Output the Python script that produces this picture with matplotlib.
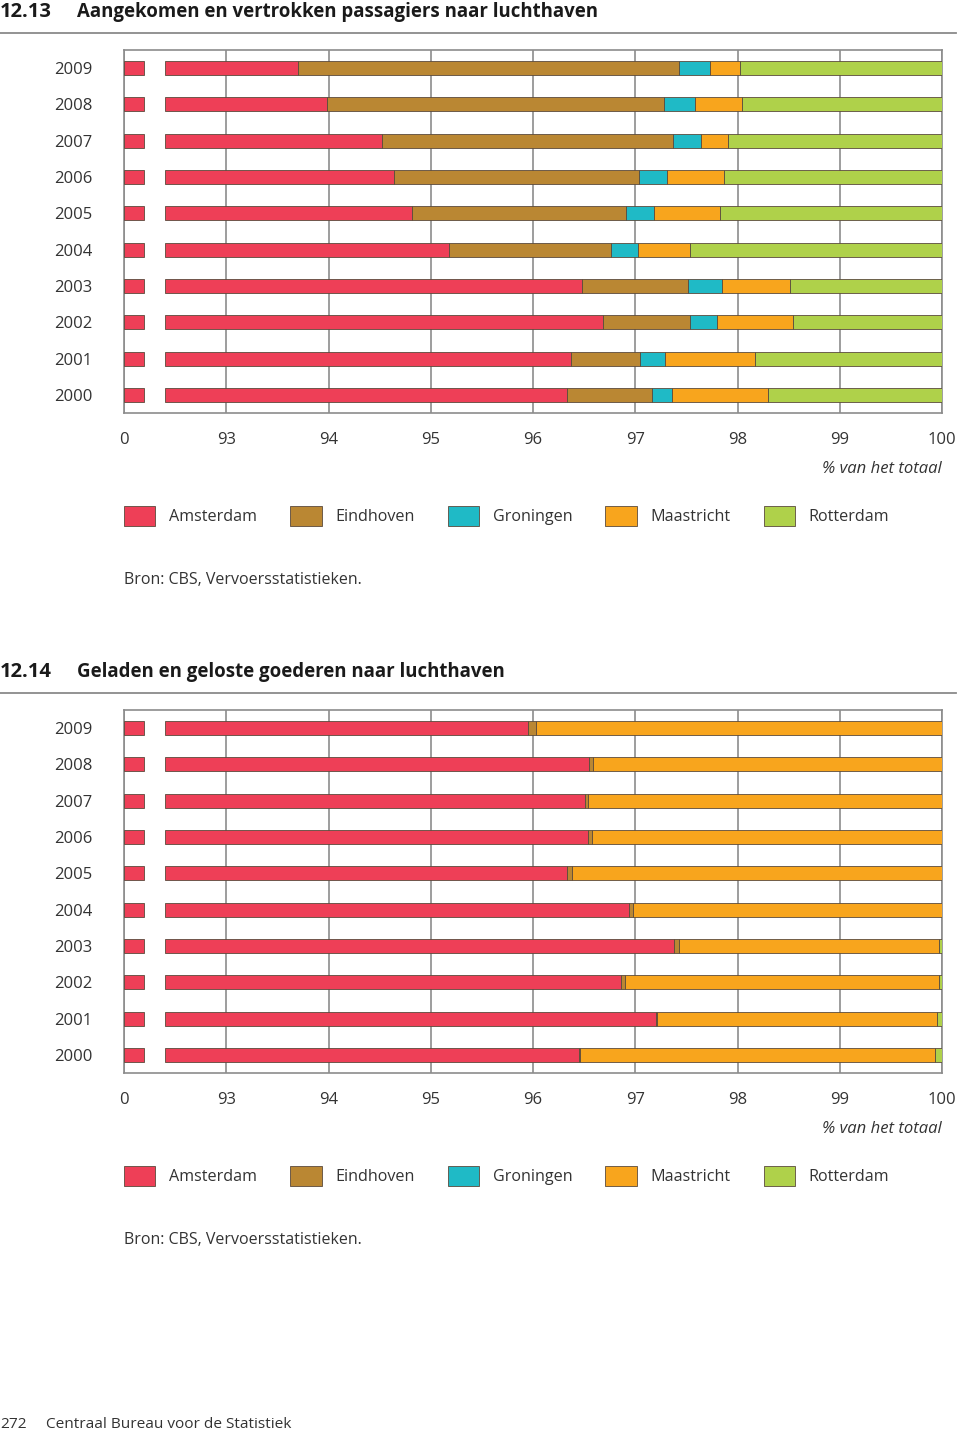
import matplotlib
matplotlib.use("Agg")
import matplotlib.pyplot as plt
from matplotlib.lines import Line2D
from matplotlib.patches import Patch

plt.rcParams['font.family'] = ['Open Sans', 'DejaVu Sans']

# Data: share (%) per airport, years top to bottom
years = ['2009', '2008', '2007', '2006', '2005', '2004', '2003', '2002', '2001', '2000']
airports = ['Amsterdam', 'Eindhoven', 'Groningen', 'Maastricht', 'Rotterdam']

# 12.13 passagiers
pas_amsterdam = [93.70, 93.99, 94.52, 94.64, 94.82, 95.18, 96.48, 96.68, 96.37, 96.33]
pas_eindhoven = [3.73, 3.29, 2.85, 2.40, 2.09, 1.58, 1.04, 0.86, 0.68, 0.83]
pas_groningen = [0.30, 0.30, 0.27, 0.27, 0.27, 0.27, 0.33, 0.26, 0.24, 0.20]
pas_maastricht = [0.29, 0.46, 0.27, 0.56, 0.65, 0.51, 0.66, 0.74, 0.88, 0.94]
pas_rotterdam = [1.98, 1.96, 2.10, 2.14, 2.18, 2.46, 1.50, 1.46, 1.83, 1.71]

# 12.14 goederen
goe_amsterdam = [95.95, 96.55, 96.51, 96.54, 96.33, 96.94, 97.38, 96.86, 97.20, 96.45]
goe_eindhoven = [0.08, 0.04, 0.03, 0.04, 0.05, 0.04, 0.05, 0.04, 0.01, 0.01]
goe_groningen = [0.0, 0.0, 0.0, 0.0, 0.0, 0.0, 0.0, 0.0, 0.0, 0.0]
goe_maastricht = [3.97, 3.41, 3.46, 3.42, 3.62, 3.02, 2.54, 3.07, 2.74, 3.47]
goe_rotterdam = [0.0, 0.0, 0.0, 0.0, 0.0, 0.0, 0.03, 0.03, 0.05, 0.07]

tick_values = [92, 93, 94, 95, 96, 97, 98, 99, 100]
tick_labels = ['0', '93', '94', '95', '96', '97', '98', '99', '100']

colors = ['#ee3f57', '#ba8733', '#1fbac6', '#f8a51d', '#afd14a']
edge = '#5a4a3c'
grid_col = '#8c8c8c'
text_col = '#333333'

W, H = 960, 1434
fig = plt.figure(figsize=(W / 100, H / 100), dpi=100)


def fx(px):
    return px / W


def fy(py):
    return 1 - py / H


def draw_chart(top, number, title, series):
    # title and rule
    fig.text(fx(0), fy(top - 38), number, fontsize=14.5, weight='bold',
             color='#1a1a1a', va='center', ha='left')
    fig.text(fx(77), fy(top - 38), title, fontsize=13.4, weight='bold',
             color='#1a1a1a', va='center', ha='left')
    fig.add_artist(Line2D([fx(0), fx(956)], [fy(top - 17), fy(top - 17)],
                          color='#8a8a8a', lw=1.3, transform=fig.transFigure))

    ax = fig.add_axes([fx(124), fy(top + 363), fx(942) - fx(124), 363 / H])
    ypos = [len(years) - 1 - i for i in range(len(years))]

    for i, y in enumerate(ypos):
        # broken-axis stub near 0
        ax.barh(y, 0.2, left=92.0, height=0.385, color=colors[0],
                edgecolor=edge, lw=0.6, zorder=3)
        left = 92.4
        cum = 0.0
        for k, s in enumerate(series):
            cum += s[i]
            right = max(cum, 92.4)
            if right - left > 0:
                ax.barh(y, right - left, left=left, height=0.385,
                        color=colors[k], edgecolor=edge, lw=0.6, zorder=3)
            left = right

    ax.set_xlim(92, 100)
    ax.set_ylim(-0.5, len(years) - 0.5)
    ax.set_xticks(tick_values)
    ax.set_xticklabels(tick_labels)
    ax.set_yticks(ypos)
    ax.set_yticklabels(years)
    ax.tick_params(length=0, labelsize=12, colors=text_col)
    ax.tick_params(axis='x', pad=13.5)
    ax.tick_params(axis='y', pad=23)
    ax.grid(axis='x', color=grid_col, lw=1.2, zorder=1)
    for sp in ax.spines.values():
        sp.set_color(grid_col)
        sp.set_linewidth(1.2)

    fig.text(fx(942), fy(top + 419), '% van het totaal', fontsize=12,
             style='italic', color=text_col, ha='right', va='center')

    handles = [Patch(facecolor=c, edgecolor=edge, lw=0.6) for c in colors]
    fig.legend(handles, airports, loc='center left',
               bbox_to_anchor=(fx(124), fy(top + 466)), ncol=5, frameon=False,
               fontsize=11.6, handlelength=1.95, handleheight=1.55,
               handletextpad=0.85, columnspacing=2.05, borderaxespad=0,
               borderpad=0, labelcolor=text_col)

    fig.text(fx(124), fy(top + 530), 'Bron: CBS, Vervoersstatistieken.',
             fontsize=11.5, color=text_col, ha='left', va='center')


draw_chart(50, '12.13', 'Aangekomen en vertrokken passagiers naar luchthaven',
           [pas_amsterdam, pas_eindhoven, pas_groningen, pas_maastricht, pas_rotterdam])
draw_chart(710, '12.14', 'Geladen en geloste goederen naar luchthaven',
           [goe_amsterdam, goe_eindhoven, goe_groningen, goe_maastricht, goe_rotterdam])

fig.text(fx(0), fy(1424), '272', fontsize=11.1, color=text_col, ha='left', va='center')
fig.text(fx(46), fy(1424), 'Centraal Bureau voor de Statistiek', fontsize=11.1,
         color=text_col, ha='left', va='center')

fig.savefig('out.png', dpi=100, facecolor='white')
